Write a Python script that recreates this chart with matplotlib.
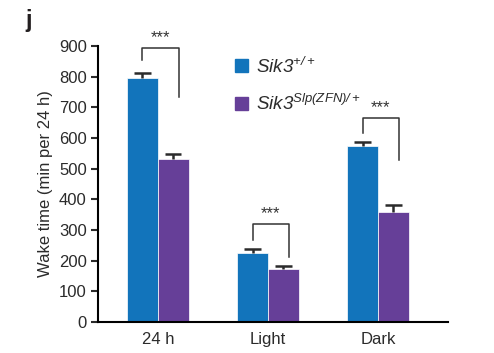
import numpy as np
import matplotlib
matplotlib.use('Agg')
import matplotlib.pyplot as plt

plt.rcParams['font.family'] = ['Liberation Sans', 'DejaVu Sans']
plt.rcParams['mathtext.fontset'] = 'custom'
plt.rcParams['mathtext.rm'] = 'Liberation Sans:italic'
plt.rcParams['mathtext.it'] = 'Liberation Sans:italic'

groups = ['24 h', 'Light', 'Dark']
wt_mean = [796, 224, 572]
wt_err = [16, 13, 16]
mut_mean = [531, 172, 360]
mut_err = [17, 11, 21]
yticks = [0, 100, 200, 300, 400, 500, 600, 700, 800, 900]

blue = '#1274bb'
purple = '#663f98'
ink = '#2b2b2b'

fig = plt.figure(figsize=(4.94, 3.53), dpi=100)
ax = fig.add_axes([0.198, 0.088, 0.709, 0.782])

x = np.arange(len(groups))
w = 0.28
cap = 0.075
for xs, means, errs, col in [(x - w / 2, wt_mean, wt_err, blue),
                             (x + w / 2, mut_mean, mut_err, purple)]:
    ax.bar(xs, means, w, color=col, edgecolor='white', linewidth=0.5, zorder=2)
    tops = np.array(means) + np.array(errs)
    ax.vlines(xs, means, tops, color=ink, lw=1.8, zorder=3)
    ax.hlines(tops, xs - cap, xs + cap, color=ink, lw=1.8, zorder=3)

# significance brackets: (left leg bottom, top, right leg bottom)
brackets = [(854, 893, 733), (267, 320, 212), (616, 665, 528)]
for xi, (lo, top, ro) in zip(x, brackets):
    xl, xr = xi - w / 2, xi + w / 2 + 0.05
    ax.plot([xl, xl, xr, xr], [lo, top, top, ro], color='#333333', lw=1.1,
            clip_on=False)
    ax.text((xl + xr) / 2, top + 10, '***', ha='center', va='bottom',
            fontsize=12, color='#333333')

ax.set_xlim(-0.545, 2.636)
ax.set_ylim(0, 900)
ax.set_yticks(yticks)
ax.set_xticks(x)
ax.set_xticklabels(groups)
ax.tick_params(axis='x', length=0, labelsize=12, colors=ink, pad=7)
ax.tick_params(axis='y', length=5, width=1.5, labelsize=12, colors=ink, pad=3)
ax.spines['top'].set_visible(False)
ax.spines['right'].set_visible(False)
ax.spines['left'].set_linewidth(1.5)
ax.spines['bottom'].set_linewidth(1.5)
ax.set_ylabel('Wake time (min per 24 h)', fontsize=12, color=ink,
              labelpad=4)

# legend
fig.patches.append(plt.Rectangle((235 / 494, 1 - 72 / 353), 13 / 494, 13 / 353,
                                 transform=fig.transFigure, color=blue))
fig.patches.append(plt.Rectangle((235 / 494, 1 - 110 / 353), 13 / 494, 13 / 353,
                                 transform=fig.transFigure, color=purple))
fig.text(256 / 494, 1 - 67 / 353, r'$Sik3^{+/+}$', fontsize=13.5,
         va='center', color=ink)
fig.text(256 / 494, 1 - 104 / 353, r'$Sik3^{Slp(ZFN)/+}$', fontsize=13.5,
         va='center', color=ink)

fig.text(25 / 494, 1 - 20 / 353, 'j', fontsize=17, fontweight='bold',
         va='center', color='#231f20')

fig.savefig('out.png', dpi=100)
